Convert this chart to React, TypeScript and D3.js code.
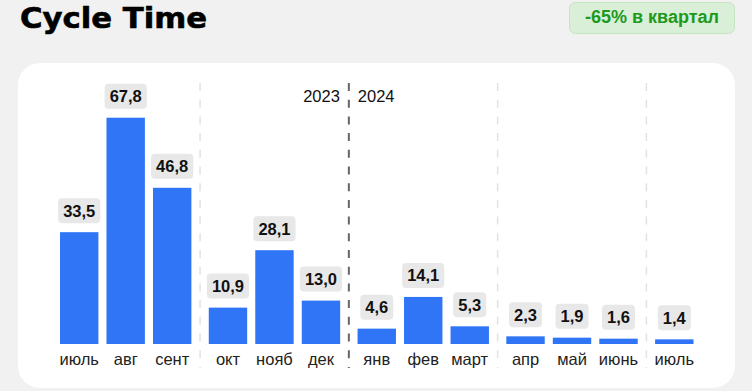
import * as d3 from "d3";

// данные графика
const months = ["июль", "авг", "сент", "окт", "нояб", "дек", "янв", "фев", "март", "апр", "май", "июнь", "июль"];
const values = [33.5, 67.8, 46.8, 10.9, 28.1, 13.0, 4.6, 14.1, 5.3, 2.3, 1.9, 1.6, 1.4];
const quarters = [0, 0, 0, 1, 1, 1, 2, 2, 2, 3, 3, 3, 4];
const years = ["2023", "2024"];
const yearBreak = 6; // индекс первого месяца 2024
const title = "Cycle Time";
const badge = "-65% в квартал";

const W = 752;
const H = 391;
const font = "'Liberation Sans', Arial, sans-serif";
const barColor = "#2f75f6";
const groupGap = 9.3;

const ruLocale = d3.formatLocale({
  decimal: ",",
  thousands: " ",
  grouping: [3],
  currency: ["", ""],
});
const fmt = ruLocale.format(".1f");

// ширина подписи (жирный 16.5px)
function labelWidth(s: string) {
  let w = 0;
  for (const ch of s) w += ch === "," ? 4.6 : 9.2;
  return w;
}

export default function App() {
  const x = d3
    .scaleBand<number>()
    .domain(d3.range(values.length))
    .range([60, 656.3])
    .paddingInner(0.174)
    .paddingOuter(0);

  const y = d3
    .scaleLinear()
    .domain([0, d3.max(values) as number])
    .range([344, 117.7]);

  const bw = x.bandwidth();
  const xPos = (i: number) => (x(i) as number) + quarters[i] * groupGap;

  // разделители между кварталами
  const seps: { x: number; dark: boolean }[] = [];
  for (let i = 1; i < values.length; i++) {
    if (quarters[i] !== quarters[i - 1]) {
      seps.push({
        x: (xPos(i - 1) + bw + xPos(i)) / 2,
        dark: i === yearBreak,
      });
    }
  }
  const yearSep = seps.find((s) => s.dark)!;

  return (
    <div style={{ position: "fixed", left: 0, top: 0 }}>
      <svg width={W} height={H} style={{ display: "block" }} fontFamily={font}>
        <rect x={0} y={0} width={W} height={H} fill="#f1f1f1" />
        <text
          x={20}
          y={28}
          fontFamily="'DejaVu Sans', sans-serif"
          fontWeight="bold"
          fontSize={28.5}
          textLength={187}
          lengthAdjust="spacingAndGlyphs"
          fill="#000"
          stroke="#000"
          strokeWidth={0.6}
        >
          {title}
        </text>

        <rect x={569.5} y={2.5} width={165} height={31} rx={6} fill="#d9efd7" stroke="#c4e4c2" />
        <text x={652} y={23} textAnchor="middle" fontWeight="bold" fontSize={18} fill="#1d9a1d">
          {badge}
        </text>

        <rect x={18} y={63} width={717} height={325} rx={22} fill="#fff" />

        {seps.map((s, i) => (
          <line
            key={"s" + i}
            x1={s.x}
            x2={s.x}
            y1={83}
            y2={368}
            stroke={s.dark ? "#666" : "#e2e2e2"}
            strokeWidth={s.dark ? 2 : 1.5}
            strokeDasharray="8,8.7"
          />
        ))}

        <text x={yearSep.x - 9} y={102} textAnchor="end" fontSize={16.5} fill="#111">
          {years[0]}
        </text>
        <text x={yearSep.x + 9} y={102} textAnchor="start" fontSize={16.5} fill="#111">
          {years[1]}
        </text>

        {values.map((v, i) => {
          const x0 = xPos(i);
          const cx = x0 + bw / 2;
          const top = y(v);
          const lbl = fmt(v);
          const bxW = labelWidth(lbl) + 10;
          return (
            <g key={i}>
              <rect x={x0} y={top} width={bw} height={y(0) - top} fill={barColor} />
              <rect x={cx - bxW / 2} y={top - 34} width={bxW} height={25} rx={4} fill="#e8e8e8" />
              <text x={cx} y={top - 15.5} textAnchor="middle" fontWeight="bold" fontSize={16.5} fill="#111">
                {lbl}
              </text>
              <text x={cx} y={365} textAnchor="middle" fontSize={16.5} fill="#222">
                {months[i]}
              </text>
            </g>
          );
        })}
      </svg>
    </div>
  );
}
